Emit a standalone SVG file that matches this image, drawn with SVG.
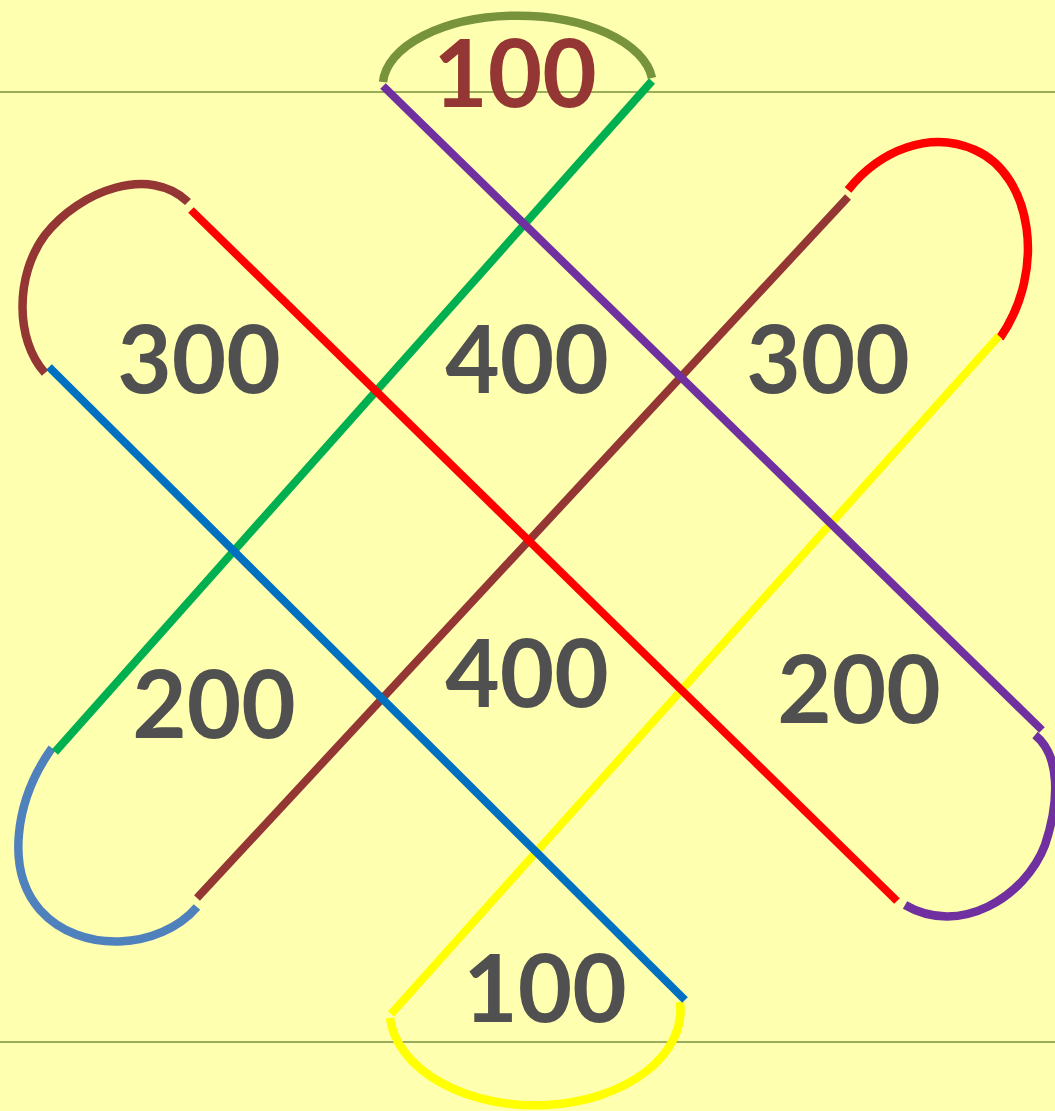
<svg xmlns="http://www.w3.org/2000/svg" width="1055" height="1111" viewBox="0 0 1055 1111">
<style>
.ln{fill:none;stroke-width:8;stroke-linecap:butt}
.arc{fill:none;stroke-width:8.5;stroke-linecap:butt}
.hl{stroke:#77933C;stroke-width:1.5}
.num{font-family:Lato,"Open Sans","Liberation Sans",sans-serif;font-weight:bold;font-size:94px;text-anchor:middle;fill:#505050}
</style>
<rect width="1055" height="1111" fill="#FFFFB0"/>
<g id="guides">
<line class="hl" x1="0" y1="92" x2="1055" y2="92"/>
<line class="hl" x1="0" y1="1042" x2="1055" y2="1042"/>
</g>
<g id="connectors">
<path class="arc" stroke="#77933C" stroke-width="9" d="M383,82 A135,70 0 0 1 652,78"/>
<path class="arc" stroke="#943634" d="M188,202 C150,165 80,190 45,235 C15,275 15,340 45,373"/>
<path class="arc" stroke="#FF0000" d="M848,190 C880,150 930,130 975,150 C1032,175 1047,270 1000,338"/>
<path class="arc" stroke="#4F81BD" d="M52,748 C15,800 5,870 40,910 C80,955 160,950 197,907"/>
<path class="arc" stroke="#7030A0" d="M1035,735 C1060,755 1060,800 1045,845 C1025,897 960,937 905,905"/>
<path class="arc" stroke="#FFFF00" d="M390,1018 A145,95 0 0 0 680,1002"/>
<line class="ln" stroke="#00B050" x1="652" y1="81" x2="55" y2="752"/>
<line class="ln" stroke="#943634" x1="848" y1="197" x2="197" y2="898"/>
<line class="ln" stroke="#FFFF00" x1="999" y1="336" x2="391" y2="1014"/>
<line class="ln" stroke="#0070C0" x1="49" y1="367" x2="685" y2="1000"/>
<line class="ln" stroke="#FF0000" x1="191" y1="210" x2="897" y2="901"/>
<line class="ln" stroke="#7030A0" x1="383" y1="86" x2="1042" y2="730"/>
</g>
<g id="n100top"><text class="num" x="515" y="107" style="fill:#943634">100</text></g>
<g id="n300left"><text class="num" x="199" y="393">300</text></g>
<g id="n400top"><text class="num" x="527" y="393">400</text></g>
<g id="n300right"><text class="num" x="828" y="393">300</text></g>
<g id="n200left"><text class="num" x="214" y="738">200</text></g>
<g id="n400bottom"><text class="num" x="527" y="707">400</text></g>
<g id="n200right"><text class="num" x="859" y="723">200</text></g>
<g id="n100bottom"><text class="num" x="545" y="1022">100</text></g>
</svg>
